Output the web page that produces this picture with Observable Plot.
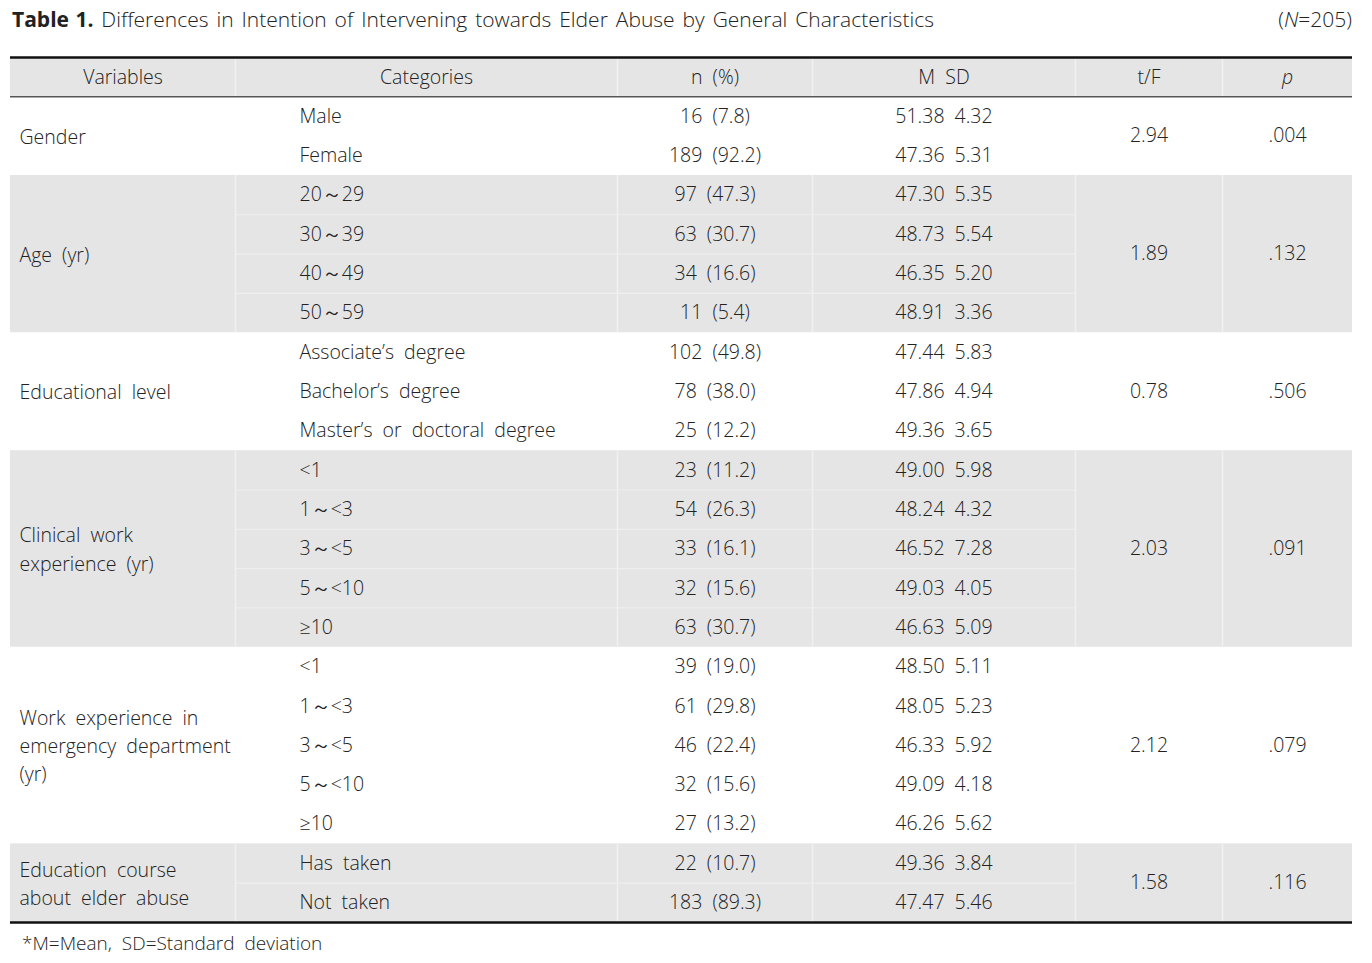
<!DOCTYPE html>
<html>
<head>
<meta charset="utf-8">
<script src="https://cdn.jsdelivr.net/npm/d3@7"></script>
<script src="https://cdn.jsdelivr.net/npm/@observablehq/plot@0.6"></script>
<style>
  html, body { margin: 0; padding: 0; background: #fff; }
  body { width: 1372px; height: 963px; overflow: hidden; font-family: "Open Sans", sans-serif; color: #222; }
  #title { position: relative; height: 46px; }
  #title .main { position: absolute; left: 12px; top: 5px; font-size: 21px; font-weight: 300; word-spacing: 2.5px; white-space: nowrap; }
  #title .main b { font-weight: 700; word-spacing: 1px; }
  #title .n { position: absolute; right: 20px; top: 5px; font-size: 21px; font-weight: 300; }
  #chart svg { display: block; }
  #note { position: relative; height: 27px; }
  #note span { position: absolute; left: 22px; top: -6px; font-size: 19px; font-weight: 300; word-spacing: 5px; white-space: nowrap; }
</style>
</head>
<body>
<div id="title"><span class="main"><b>Table 1.</b> Differences in Intention of Intervening towards Elder Abuse by General Characteristics</span><span class="n">(<i>N</i>=205)</span></div>
<div id="chart"></div>
<div id="note"><span>*M=Mean, SD=Standard deviation</span></div>
<script>
// ---- data ----
const headers = ["Variables", "Categories", "n (%)", "M SD", "t/F", "p"];
const variables = [
  "Gender",
  "Age (yr)",
  "Educational level",
  "Clinical work\nexperience (yr)",
  "Work experience in\nemergency department\n(yr)",
  "Education course\nabout elder abuse"
];
const groupSizes = [2, 4, 3, 5, 5, 2];
const categories = [
  "Male", "Female",
  "20～29", "30～39", "40～49", "50～59",
  "Associate’s degree", "Bachelor’s degree", "Master’s or doctoral degree",
  "<1", "1～<3", "3～<5", "5～<10", "≥10",
  "<1", "1～<3", "3～<5", "5～<10", "≥10",
  "Has taken", "Not taken"
];
const counts = [16, 189, 97, 63, 34, 11, 102, 78, 25, 23, 54, 33, 32, 63, 39, 61, 46, 32, 27, 22, 183];
const percents = ["7.8", "92.2", "47.3", "30.7", "16.6", "5.4", "49.8", "38.0", "12.2", "11.2", "26.3", "16.1", "15.6", "30.7", "19.0", "29.8", "22.4", "15.6", "13.2", "10.7", "89.3"];
const means = ["51.38", "47.36", "47.30", "48.73", "46.35", "48.91", "47.44", "47.86", "49.36", "49.00", "48.24", "46.52", "49.03", "46.63", "48.50", "48.05", "46.33", "49.09", "46.26", "49.36", "47.47"];
const sds = ["4.32", "5.31", "5.35", "5.54", "5.20", "3.36", "5.83", "4.94", "3.65", "5.98", "4.32", "7.28", "4.05", "5.09", "5.11", "5.23", "5.92", "4.18", "5.62", "3.84", "5.46"];
const tF = ["2.94", "1.89", "0.78", "2.03", "2.12", "1.58"];
const pValues = [".004", ".132", ".506", ".091", ".079", ".116"];

// ---- layout (column edges in page pixels) ----
const colEdges = [10, 235, 617, 812, 1075, 1222, 1352];
const colMid = colEdges.slice(0, -1).map((e, i) => (e + colEdges[i + 1]) / 2);
const catX = 299;
const varX = 19;

// ---- derived tables ----
const groups = [];
let start = 0;
variables.forEach((v, i) => {
  groups.push({name: v, start, end: start + groupSizes[i], tF: tF[i], p: pValues[i], shaded: i % 2 === 1});
  start += groupSizes[i];
});
const nRows = start;
const rows = categories.map((c, i) => ({
  row: i, cat: c,
  n: `${counts[i]} (${percents[i]})`,
  msd: `${means[i]} ${sds[i]}`
}));
const shadedBlocks = [{start: -1, end: 0}, ...groups.filter(g => g.shaded)];
const innerRules = [];
groups.filter(g => g.shaded).forEach(g => { for (let r = g.start + 1; r < g.end; r++) innerRules.push({row: r}); });
const vRules = [];
shadedBlocks.forEach(b => colEdges.slice(1, -1).forEach(x => vRules.push({x, y1: b.start, y2: b.end})));
const headerCells = headers.map((h, i) => ({h, x: colMid[i]}));

const fontFamily = "'Open Sans', sans-serif";
const fs = 19.5;
const ink = "#222";
const xL = colEdges[0], xR = colEdges[colEdges.length - 1];

const chart = Plot.plot({
  width: 1372,
  height: 890,
  margin: 0,
  x: {type: "linear", domain: [0, 1372], range: [0, 1372], axis: null},
  y: {type: "linear", domain: [-1, nRows], range: [11, 876], axis: null},
  style: {fontFamily, fontSize: fs + "px", wordSpacing: "5px", fontWeight: 300, color: ink},
  marks: [
    Plot.rect(shadedBlocks, {x1: xL, x2: xR, y1: "start", y2: "end", fill: "#e5e5e5"}),
    Plot.ruleY(innerRules, {y: "row", x1: colEdges[1], x2: colEdges[4], stroke: "#eeeeee", strokeWidth: 1.2}),
    Plot.ruleX(vRules, {x: "x", y1: "y1", y2: "y2", stroke: "#f0f0f0", strokeWidth: 1.5}),
    Plot.ruleY([-1], {x1: xL, x2: xR, stroke: "#111", strokeWidth: 2.5}),
    Plot.ruleY([0], {x1: xL, x2: xR, stroke: "#555", strokeWidth: 1.5}),
    Plot.ruleY([nRows], {x1: xL, x2: xR, stroke: "#111", strokeWidth: 2.5}),
    // header
    Plot.text(headerCells.filter(d => d.h !== "p"), {x: "x", y: -0.5, dy: 1, text: "h", textAnchor: "middle", fontSize: fs, fill: ink}),
    Plot.text(headerCells.filter(d => d.h === "p"), {x: "x", y: -0.5, dy: 1, text: "h", textAnchor: "middle", fontSize: fs, fill: ink, fontStyle: "italic"}),
    // variables
    Plot.text(groups, {x: varX, y: d => (d.start + d.end) / 2, dy: -1.5, text: "name", textAnchor: "start", lineHeight: 1.45, fontSize: fs, fill: ink}),
    // cells
    Plot.text(rows, {x: catX, y: d => d.row + 0.5, text: "cat", textAnchor: "start", fontSize: fs, fill: ink}),
    Plot.text(rows, {x: colMid[2], y: d => d.row + 0.5, text: "n", textAnchor: "middle", fontSize: fs, fill: ink}),
    Plot.text(rows, {x: colMid[3], y: d => d.row + 0.5, text: "msd", textAnchor: "middle", fontSize: fs, fill: ink}),
    Plot.text(groups, {x: colMid[4], y: d => (d.start + d.end) / 2, text: "tF", textAnchor: "middle", fontSize: fs, fill: ink}),
    Plot.text(groups, {x: colMid[5], y: d => (d.start + d.end) / 2, text: "p", textAnchor: "middle", fontSize: fs, fill: ink})
  ]
});
document.getElementById("chart").append(chart);
</script>
</body>
</html>
